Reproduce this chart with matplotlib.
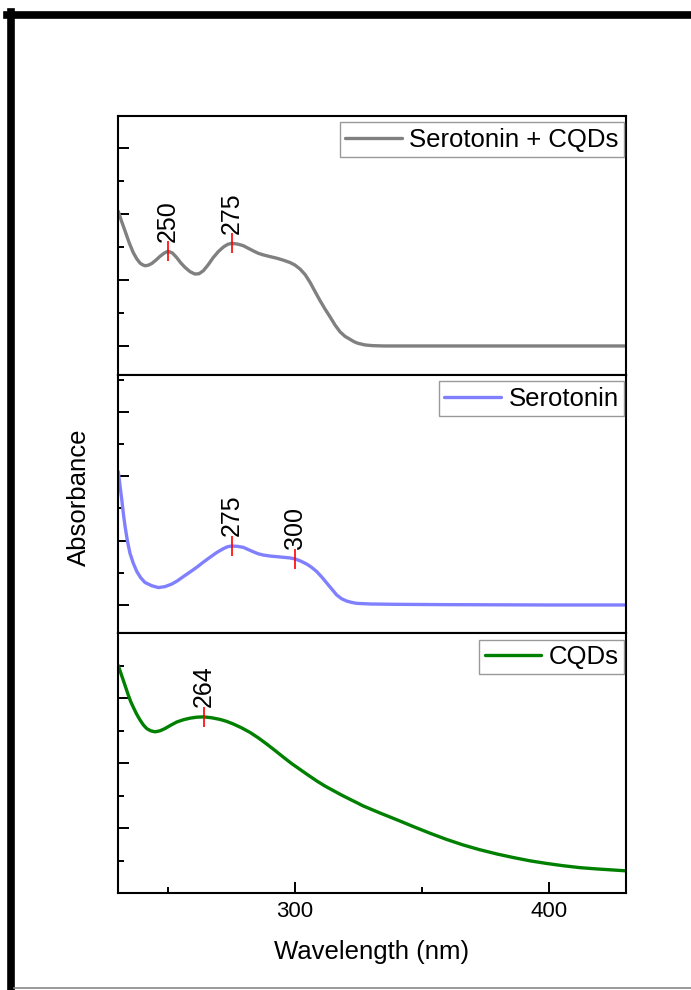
import matplotlib
matplotlib.use("Agg")
import matplotlib.pyplot as plt
import numpy as np
from matplotlib.lines import Line2D
from matplotlib.ticker import MultipleLocator

plt.rcParams["font.family"] = ["Liberation Sans", "DejaVu Sans"]

# Serotonin + CQDs (top panel)
wl_mix = [230.4, 231.7, 233.1, 234.7, 236.3, 237.7, 239.0, 240.0, 241.0, 242.3,
          243.6, 245.2, 246.9, 248.6, 250.0, 251.7, 253.4, 255.0, 256.7, 258.7,
          260.6, 262.2, 263.9, 265.8, 267.8, 269.8, 271.8, 273.5, 275.0, 277.3,
          279.6, 281.6, 283.6, 285.5, 287.5, 290.1, 292.8, 295.4, 298.0, 300.0,
          302.0, 304.0, 305.9, 307.8, 309.8, 311.8, 313.8, 315.7, 317.7, 319.7,
          321.7, 323.2, 324.8, 327.6, 330.5, 335.0, 350.0, 380.0, 410.0, 431.0]
abs_mix = [0.408, 0.378, 0.348, 0.313, 0.283, 0.264, 0.251, 0.246, 0.243, 0.245,
           0.250, 0.260, 0.272, 0.282, 0.287, 0.282, 0.268, 0.252, 0.238, 0.225,
           0.218, 0.219, 0.228, 0.246, 0.268, 0.286, 0.300, 0.308, 0.311, 0.309,
           0.304, 0.296, 0.288, 0.281, 0.276, 0.271, 0.266, 0.260, 0.253, 0.245,
           0.233, 0.216, 0.193, 0.166, 0.138, 0.112, 0.088, 0.064, 0.043, 0.029,
           0.020, 0.013, 0.008, 0.003, 0.001, 0.000, 0.000, 0.000, 0.000, 0.000]

# Serotonin (middle panel)
wl_ser = [230.4, 231.1, 231.8, 232.4, 233.1, 234.0, 235.0, 236.3, 237.7, 239.2,
          240.9, 243.5, 246.2, 248.8, 251.5, 253.7, 256.0, 258.6, 261.3, 263.9,
          266.5, 269.2, 271.8, 273.5, 275.0, 277.3, 279.6, 281.6, 283.6, 285.5,
          287.5, 290.1, 292.8, 295.4, 298.0, 300.0, 302.3, 304.6, 306.5, 308.5,
          310.5, 312.5, 314.5, 316.4, 318.4, 320.4, 322.3, 324.3, 330.0, 340.0,
          360.0, 400.0, 431.0]
abs_ser = [0.414, 0.370, 0.326, 0.284, 0.243, 0.199, 0.161, 0.130, 0.104, 0.085,
           0.070, 0.060, 0.054, 0.057, 0.065, 0.075, 0.088, 0.102, 0.117, 0.133,
           0.148, 0.163, 0.175, 0.181, 0.183, 0.182, 0.179, 0.172, 0.165, 0.159,
           0.155, 0.152, 0.150, 0.148, 0.146, 0.143, 0.136, 0.127, 0.117, 0.104,
           0.087, 0.068, 0.049, 0.031, 0.019, 0.012, 0.008, 0.005, 0.003, 0.002,
           0.001, 0.000, 0.000]

# CQDs (bottom panel)
wl_cqd = [230.4, 231.4, 232.4, 233.4, 234.4, 235.3, 236.3, 237.6, 239.0, 240.3,
          241.6, 243.2, 244.9, 246.8, 248.8, 251.0, 253.4, 256.0, 258.7, 261.4,
          264.0, 267.3, 270.5, 273.1, 275.7, 279.0, 282.3, 285.6, 288.9, 292.2,
          295.4, 298.7, 302.0, 305.3, 308.5, 311.8, 315.1, 318.4, 321.7, 324.3,
          326.8, 333.5, 340.2, 346.7, 353.1, 359.6, 366.1, 372.8, 379.5, 386.0,
          392.5, 399.0, 405.5, 412.2, 418.9, 424.8, 430.7]
abs_cqd = [0.700, 0.677, 0.654, 0.631, 0.608, 0.589, 0.572, 0.551, 0.532, 0.517,
           0.506, 0.499, 0.496, 0.499, 0.506, 0.516, 0.526, 0.533, 0.538, 0.541,
           0.542, 0.539, 0.534, 0.528, 0.520, 0.508, 0.494, 0.477, 0.458, 0.438,
           0.418, 0.398, 0.380, 0.362, 0.345, 0.329, 0.315, 0.301, 0.288, 0.278,
           0.268, 0.246, 0.225, 0.204, 0.184, 0.165, 0.148, 0.133, 0.120, 0.109,
           0.099, 0.091, 0.084, 0.078, 0.074, 0.071, 0.068]

panels = [
    ("Serotonin + CQDs", wl_mix, abs_mix, "#808080", [250, 275], (-0.088, 0.697)),
    ("Serotonin", wl_ser, abs_ser, "#8080FF", [275, 300], (-0.087, 0.714)),
    ("CQDs", wl_cqd, abs_cqd, "#008000", [264], (0.0, 0.80)),
]

fig = plt.figure(figsize=(6.91, 9.90), dpi=100)
left, width = 118 / 691, 508 / 691
tops = [116, 375, 633]
heights = [259, 258, 260]

axes = []
for (name, wl, ab, color, peaks, ylim), top, h in zip(panels, tops, heights):
    ax = fig.add_axes([left, 1 - (top + h) / 990, width, h / 990])
    ax.plot(wl, ab, color=color, lw=2.4, label=name,
            solid_joinstyle="round", solid_capstyle="round")
    for p in peaks:
        yp = np.interp(p, wl, ab)
        ax.plot([p], [yp], marker="|", color="red", ms=14, mew=1.2)
        ax.annotate(str(p), xy=(p, yp), xytext=(0, 7), textcoords="offset points",
                    rotation=90, ha="center", va="bottom", fontsize=18)
    ax.set_xlim(230.3, 430.3)
    ax.set_ylim(*ylim)
    ax.yaxis.set_major_locator(MultipleLocator(0.2))
    ax.yaxis.set_minor_locator(MultipleLocator(0.1))
    ax.xaxis.set_major_locator(MultipleLocator(100))
    ax.xaxis.set_minor_locator(MultipleLocator(50))
    ax.tick_params(axis="y", which="major", direction="in", length=8, width=1.4,
                   labelleft=False)
    ax.tick_params(axis="y", which="minor", direction="in", length=4.5, width=1.4)
    ax.tick_params(axis="x", which="both", direction="in", width=1.4)
    ax.tick_params(axis="x", which="major", length=8, labelsize=16, pad=6)
    ax.tick_params(axis="x", which="minor", length=4.5)
    for s in ax.spines.values():
        s.set_linewidth(1.5)
    leg = ax.legend(loc="upper right", bbox_to_anchor=(0.996, 0.975),
                    borderaxespad=0, fontsize=18.5, fancybox=False,
                    edgecolor="#999999", framealpha=1, handlelength=2.2,
                    handletextpad=0.3, borderpad=0.2)
    leg.get_frame().set_linewidth(1.0)
    axes.append(ax)

for ax in axes[:-1]:
    ax.tick_params(axis="x", which="both", bottom=False, labelbottom=False)

axes[-1].set_xlabel("Wavelength (nm)", fontsize=18.5, labelpad=13)
fig.text(79 / 691, 1 - 497 / 990, "Absorbance", rotation=90, fontsize=18.5,
         ha="center", va="center")

# frame lines along the page edges
fig.add_artist(Line2D([7 / 691, 1], [1 - 15 / 990] * 2, color="black", lw=5.5,
                      transform=fig.transFigure))
fig.add_artist(Line2D([10.5 / 691] * 2, [0, 1 - 12 / 990], color="black", lw=5.5,
                      transform=fig.transFigure))
fig.add_artist(Line2D([14 / 691, 1], [1 - 988 / 990] * 2, color="#888888", lw=1.2,
                      transform=fig.transFigure))

fig.savefig("out.png", dpi=100)
